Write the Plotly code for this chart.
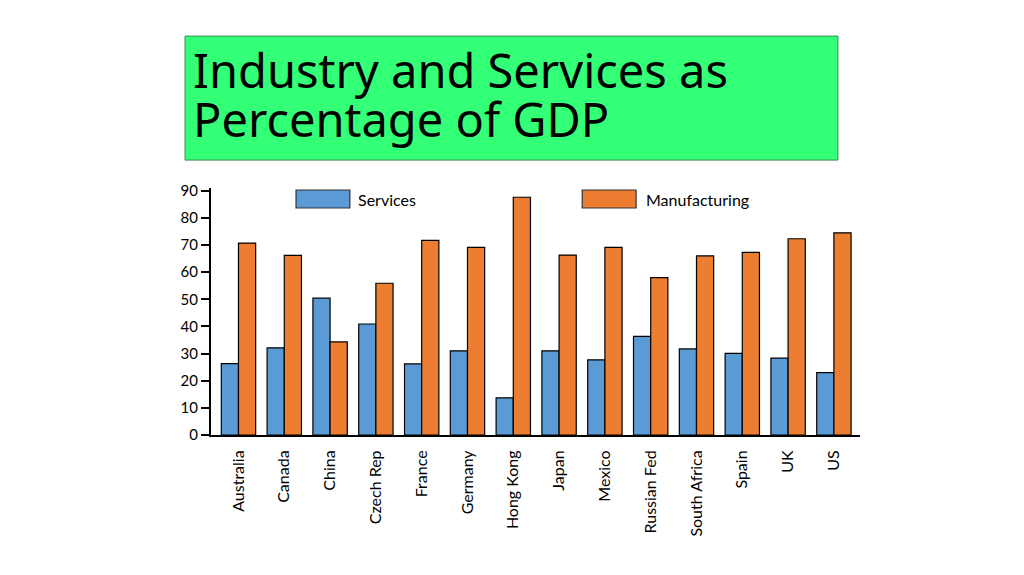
import plotly.graph_objects as go

countries = ["Australia", "Canada", "China", "Czech Rep", "France", "Germany", "Hong Kong",
             "Japan", "Mexico", "Russian Fed", "South Africa", "Spain", "UK", "US"]
services = [26.3, 32.1, 50.4, 40.9, 26.2, 31.0, 13.7, 31.0, 27.7, 36.3, 31.7, 30.1, 28.3, 23.0]
manufacturing = [70.7, 66.2, 34.3, 55.9, 71.7, 69.1, 87.6, 66.3, 69.1, 58.0, 66.0, 67.3, 72.3, 74.5]
yticks = [0, 10, 20, 30, 40, 50, 60, 70, 80, 90]

BLUE = "#5B9BD5"
ORANGE = "#ED7D31"

fig = go.Figure()
fig.add_trace(go.Bar(x=countries, y=services, name="Services",
                     marker=dict(color=BLUE, line=dict(color="black", width=1.2))))
fig.add_trace(go.Bar(x=countries, y=manufacturing, name="Manufacturing",
                     marker=dict(color=ORANGE, line=dict(color="black", width=1.2))))

fig.update_layout(
    width=1024, height=575,
    margin=dict(l=203, r=172, t=180, b=148),
    paper_bgcolor="white", plot_bgcolor="white",
    barmode="group", bargap=0.25, bargroupgap=0,
    showlegend=False,
    font=dict(family="Lato", size=15, color="black"),
    xaxis=dict(range=[-0.6, 13.57], showline=True, linecolor="black", linewidth=2,
               tickangle=-90, ticks="", showgrid=False, zeroline=False,
               ticklabelstandoff=7,
               tickfont=dict(family="Lato", size=16)),
    yaxis=dict(range=[0, 91], tickvals=yticks, showline=True, linecolor="black", linewidth=2,
               ticks="outside", ticklen=8, tickcolor="black", tickwidth=1.5,
               showgrid=False, zeroline=False, tickfont=dict(family="Lato", size=15)),
)

# Title box
fig.add_shape(type="rect", xref="paper", yref="paper", x0=-0.04, x1=0.966, y0=1.113, y1=1.615,
              fillcolor="#33FF77", line=dict(color="#3a8a50", width=1), layer="below")
fig.add_annotation(xref="paper", yref="paper", x=-0.031, y=1.476, xanchor="left", yanchor="middle",
                   text="Industry and Services as", showarrow=False,
                   font=dict(family="Noto Sans", size=47, color="black"))
fig.add_annotation(xref="paper", yref="paper", x=-0.031, y=1.278, xanchor="left", yanchor="middle",
                   text="Percentage of GDP", showarrow=False,
                   font=dict(family="Noto Sans", size=47, color="black"))

# Custom legend
for x0, x1, col, tx, label in [(0.131, 0.214, BLUE, 0.223, "Services"),
                               (0.572, 0.655, ORANGE, 0.667, "Manufacturing")]:
    fig.add_shape(type="rect", xref="paper", yref="paper", x0=x0, x1=x1, y0=0.919, y1=0.992,
                  fillcolor=col, line=dict(color="#333333", width=1.2))
    fig.add_annotation(xref="paper", yref="paper", x=tx, y=0.955, xanchor="left", yanchor="middle",
                       text=label, showarrow=False, font=dict(family="Lato", size=16, color="black"))

fig.write_html("out.html")
